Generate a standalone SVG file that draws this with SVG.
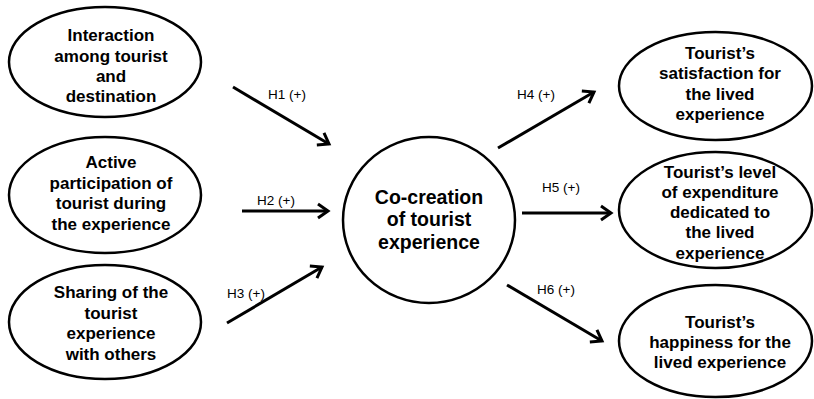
<svg xmlns="http://www.w3.org/2000/svg" width="814" height="399" viewBox="0 0 814 399">
<style>
.n{fill:#fff;stroke:#000;stroke-width:2.5}
.t{font-family:"Liberation Sans",Arial,sans-serif;font-weight:bold;font-size:17px;fill:#000;text-anchor:middle}
.c{font-size:19.5px}
.l{font-family:"Liberation Sans",Arial,sans-serif;font-size:13.5px;fill:#000}
.e{stroke:#000;stroke-width:3;fill:none}
</style>
<defs>
<marker id="ah" markerUnits="userSpaceOnUse" markerWidth="20" markerHeight="20" viewBox="-14 -10 20 20" refX="0" refY="0" orient="auto">
<path d="M-10,-7 L0,0 L-10,7" fill="none" stroke="#000" stroke-width="3"/>
</marker>
</defs>
<rect width="814" height="399" fill="#fff"/>
<g id="connectors">
<line class="e" x1="233" y1="87" x2="329" y2="144" marker-end="url(#ah)"/>
<line class="e" x1="242" y1="211" x2="328" y2="211" marker-end="url(#ah)"/>
<line class="e" x1="227" y1="323" x2="322" y2="267" marker-end="url(#ah)"/>
<line class="e" x1="498" y1="148" x2="594" y2="92" marker-end="url(#ah)"/>
<line class="e" x1="522" y1="213" x2="611" y2="213" marker-end="url(#ah)"/>
<line class="e" x1="507" y1="285" x2="602" y2="341" marker-end="url(#ah)"/>
<text class="l" x="268" y="98.5">H1 (+)</text>
<text class="l" x="257" y="204.5">H2 (+)</text>
<text class="l" x="227" y="298">H3 (+)</text>
<text class="l" x="517" y="98.5">H4 (+)</text>
<text class="l" x="542" y="192">H5 (+)</text>
<text class="l" x="537" y="293.5">H6 (+)</text>
</g>
<g id="n1">
<ellipse class="n" cx="105" cy="62" rx="96" ry="55"/>
<text class="t" x="111" y="41">Interaction</text>
<text class="t" x="111" y="61.5">among tourist</text>
<text class="t" x="111" y="82">and</text>
<text class="t" x="111" y="102">destination</text>
</g>
<g id="n2">
<ellipse class="n" cx="105" cy="195" rx="96" ry="58"/>
<text class="t" x="111" y="168">Active</text>
<text class="t" x="111" y="188.5">participation of</text>
<text class="t" x="111" y="209">tourist during</text>
<text class="t" x="111" y="229.5">the experience</text>
</g>
<g id="n3">
<ellipse class="n" cx="105" cy="322" rx="96" ry="57"/>
<text class="t" x="111" y="298">Sharing of the</text>
<text class="t" x="111" y="318.5">tourist</text>
<text class="t" x="111" y="339">experience</text>
<text class="t" x="111" y="359.5">with others</text>
</g>
<g id="center">
<ellipse class="n" cx="429" cy="220" rx="86" ry="83"/>
<text class="t c" x="429" y="203.5">Co-creation</text>
<text class="t c" x="429" y="226">of tourist</text>
<text class="t c" x="429" y="248.5">experience</text>
</g>
<g id="n4">
<ellipse class="n" cx="715.5" cy="86" rx="96.5" ry="54"/>
<text class="t" x="720" y="58.5">Tourist’s</text>
<text class="t" x="720" y="79">satisfaction for</text>
<text class="t" x="720" y="99.5">the lived</text>
<text class="t" x="720" y="120">experience</text>
</g>
<g id="n5">
<ellipse class="n" cx="715.5" cy="210" rx="96.5" ry="58"/>
<text class="t" x="720" y="177.5">Tourist’s level</text>
<text class="t" x="720" y="197.75">of expenditure</text>
<text class="t" x="720" y="218">dedicated to</text>
<text class="t" x="720" y="238.25">the lived</text>
<text class="t" x="720" y="258.5">experience</text>
</g>
<g id="n6">
<ellipse class="n" cx="715.5" cy="341" rx="96.5" ry="56"/>
<text class="t" x="720" y="328">Tourist’s</text>
<text class="t" x="720" y="348">happiness for the</text>
<text class="t" x="720" y="368">lived experience</text>
</g>
</svg>
